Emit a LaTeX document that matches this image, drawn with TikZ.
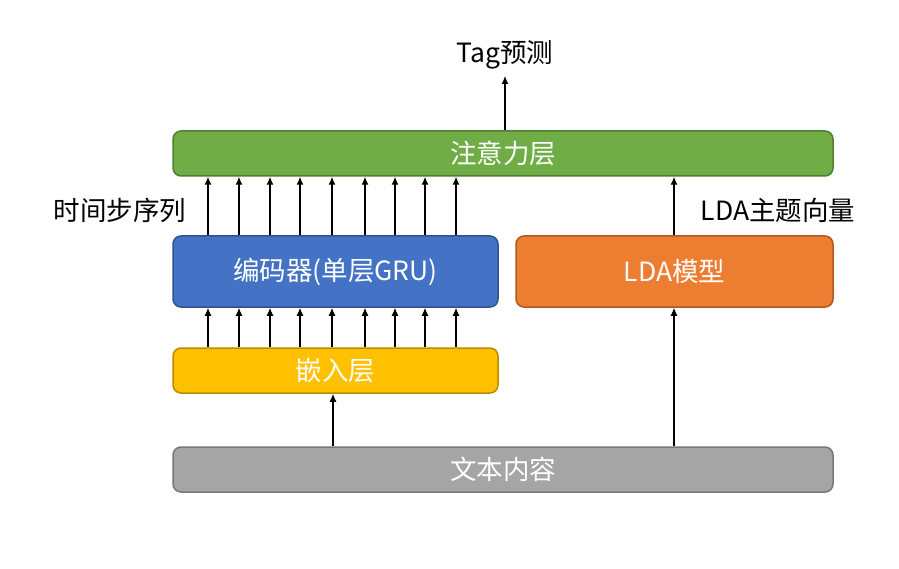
\documentclass[tikz,border=0pt]{standalone}
\usepackage{fontspec}
\setmainfont{Noto Sans CJK SC}
\usetikzlibrary{arrows.meta}
\definecolor{gfill}{HTML}{70AD47}\definecolor{gline}{HTML}{507E32}
\definecolor{bfill}{HTML}{4472C4}\definecolor{bline}{HTML}{2F528F}
\definecolor{ofill}{HTML}{ED7D31}\definecolor{oline}{HTML}{AE5A21}
\definecolor{yfill}{HTML}{FFC000}\definecolor{yline}{HTML}{BC8C00}
\definecolor{afill}{HTML}{A5A5A5}\definecolor{aline}{HTML}{787878}
\begin{document}
\begin{tikzpicture}[x=1pt,y=-1pt,
  box/.style={draw, line width=1.5pt, rounded corners=8pt, text=white, font=\fontsize{26.5}{30}\selectfont, inner sep=0pt},
  lbl/.style={font=\fontsize{26.5}{30}\selectfont, text=black, inner sep=0pt},
  arr/.style={line width=1.2pt, -{Latex[length=8pt,width=7pt]}}]
\useasboundingbox (0,0) rectangle (899,569);
\node[box, fill=gfill, draw=gline, minimum width=660pt, minimum height=45pt] (att) at (503,153.5) {注意力层};
\node[box, fill=bfill, draw=bline, minimum width=325pt, minimum height=71pt] (enc) at (335.5,271.5) {编码器(单层GRU)};
\node[box, fill=ofill, draw=oline, minimum width=317pt, minimum height=71pt] (lda) at (674.5,271.5) {LDA模型};
\node[box, fill=yfill, draw=yline, minimum width=325pt, minimum height=45pt] (emb) at (335.5,370.5) {嵌入层};
\node[box, fill=afill, draw=aline, minimum width=660pt, minimum height=45pt] (txt) at (503,469.5) {文本内容};
\node[lbl] (tag) at (505,55) {Tag预测};
\node[lbl] (seq) at (120,210) {时间步序列};
\node[lbl] (topic) at (778,210) {LDA主题向量};
\foreach \i/\x in {1/208,2/239,3/270,4/300,5/332,6/365,7/395,8/425,9/456}{
  \coordinate (c\i) at (\x,0);
  \draw[arr] (enc.north -| c\i) -- (att.south -| c\i);
  \draw[arr] (emb.north -| c\i) -- (enc.south -| c\i);
}
\coordinate (cemb) at (333,0);
\coordinate (clda) at (674,0);
\coordinate (ctag) at (505,0);
\coordinate (tagbot) at (505,76);
\draw[arr] (txt.north -| cemb) -- (emb.south -| cemb);
\draw[arr] (txt.north -| clda) -- (lda.south -| clda);
\draw[arr] (lda.north -| clda) -- (att.south -| clda);
\draw[arr] (att.north -| ctag) -- (tagbot);
\end{tikzpicture}
\end{document}
